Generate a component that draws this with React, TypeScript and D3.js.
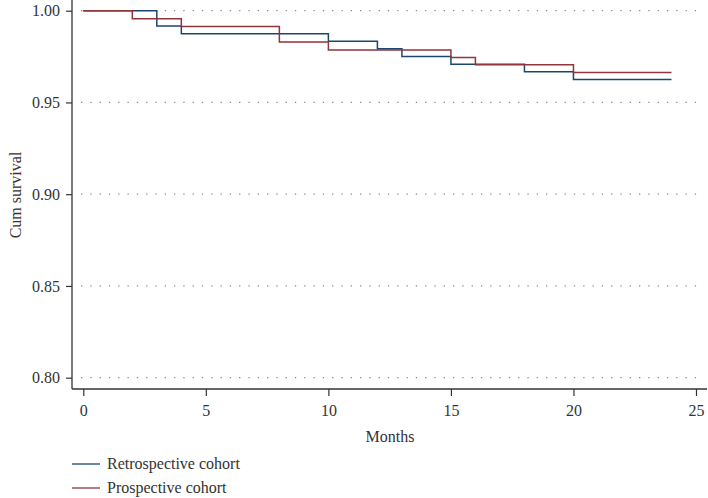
import { useRef, useEffect } from 'react';
import * as d3 from 'd3';

// Kaplan-Meier step points: [month, cumulative survival]
const retrospective: [number, number][] = [
  [0, 1.0], [3, 0.9917], [4, 0.9875], [10, 0.9833], [12, 0.9792],
  [13, 0.975], [15, 0.9708], [18, 0.9667], [20, 0.9625], [24, 0.9625],
];
const prospective: [number, number][] = [
  [0, 1.0], [2, 0.9956], [4, 0.9914], [8, 0.983], [10, 0.9786],
  [15, 0.9745], [16, 0.9705], [20, 0.9663], [24, 0.9663],
];

const yTicks = [0.8, 0.85, 0.9, 0.95, 1.0];
const xTicks = [0, 5, 10, 15, 20, 25];

const seriesNames = ['Retrospective cohort', 'Prospective cohort'];
const seriesColors = ['#1a476f', '#90353b'];

const W = 708;
const H = 498;
const FONT = '"Liberation Serif", "Times New Roman", serif';
const FS = 16;

const SurvivalChart = () => {
  const svgRef = useRef<SVGSVGElement>(null);

  useEffect(() => {
    const svg = d3.select(svgRef.current);
    svg.selectAll('*').remove();

    const left = 72;
    const right = 707;
    const bottom = 389;

    const x = d3.scaleLinear().domain([0, 25]).range([83.3, 696]);
    const y = d3.scaleLinear().domain([0.8, 1.0]).range([377.7, 10.7]);

    // dotted gridlines
    svg.append('g')
      .selectAll('line')
      .data(yTicks)
      .enter().append('line')
      .attr('x1', left + 9)
      .attr('x2', right - 4)
      .attr('y1', d => y(d))
      .attr('y2', d => y(d))
      .attr('stroke', '#8a8a8a')
      .attr('stroke-width', 1.3)
      .attr('stroke-dasharray', '1.3 8')
      .attr('stroke-linecap', 'butt');

    const line = d3.line<[number, number]>()
      .x(d => x(d[0]))
      .y(d => y(d[1]))
      .curve(d3.curveStepAfter);

    [retrospective, prospective].forEach((s, i) => {
      svg.append('path')
        .datum(s)
        .attr('d', line)
        .attr('fill', 'none')
        .attr('stroke', seriesColors[i])
        .attr('stroke-width', 1.5);
    });

    // y axis
    const yAxis = svg.append('g')
      .attr('transform', `translate(${left},0)`)
      .call(d3.axisLeft(y).tickValues(yTicks).tickSize(6).tickPadding(6).tickFormat(d3.format('.2f')));
    yAxis.select('.domain').attr('d', `M0,0V${bottom}`).attr('stroke', '#333').attr('stroke-width', 1.3);

    // x axis
    const xAxis = svg.append('g')
      .attr('transform', `translate(0,${bottom})`)
      .call(d3.axisBottom(x).tickValues(xTicks).tickSize(7).tickPadding(9));
    xAxis.select('.domain').attr('d', `M${left},0H${right}`).attr('stroke', '#333').attr('stroke-width', 1.3);

    svg.selectAll('.tick line').attr('stroke', '#333').attr('stroke-width', 1.2);
    svg.selectAll('.tick text')
      .attr('font-family', FONT)
      .attr('font-size', FS)
      .attr('fill', '#333');

    svg.append('text')
      .attr('x', 390)
      .attr('y', 442)
      .attr('text-anchor', 'middle')
      .attr('font-family', FONT)
      .attr('font-size', FS)
      .attr('fill', '#333')
      .text('Months');

    svg.append('text')
      .attr('transform', 'translate(21,195) rotate(-90)')
      .attr('text-anchor', 'middle')
      .attr('font-family', FONT)
      .attr('font-size', FS)
      .attr('fill', '#333')
      .text('Cum survival');

    // legend
    const legend = svg.append('g');
    seriesNames.forEach((name, i) => {
      const ly = 464 + i * 24;
      legend.append('line')
        .attr('x1', 72).attr('x2', 100)
        .attr('y1', ly).attr('y2', ly)
        .attr('stroke', seriesColors[i])
        .attr('stroke-width', 1.3);
      legend.append('text')
        .attr('x', 107)
        .attr('y', ly + 5)
        .attr('font-family', FONT)
        .attr('font-size', FS)
        .attr('fill', '#333')
        .text(name);
    });
  }, []);

  return <svg ref={svgRef} width={W} height={H} style={{ display: 'block', background: '#fff' }}></svg>;
};

export default function App() {
  return (
    <div style={{ position: 'fixed', top: 0, left: 0 }}>
      <SurvivalChart />
    </div>
  );
}
